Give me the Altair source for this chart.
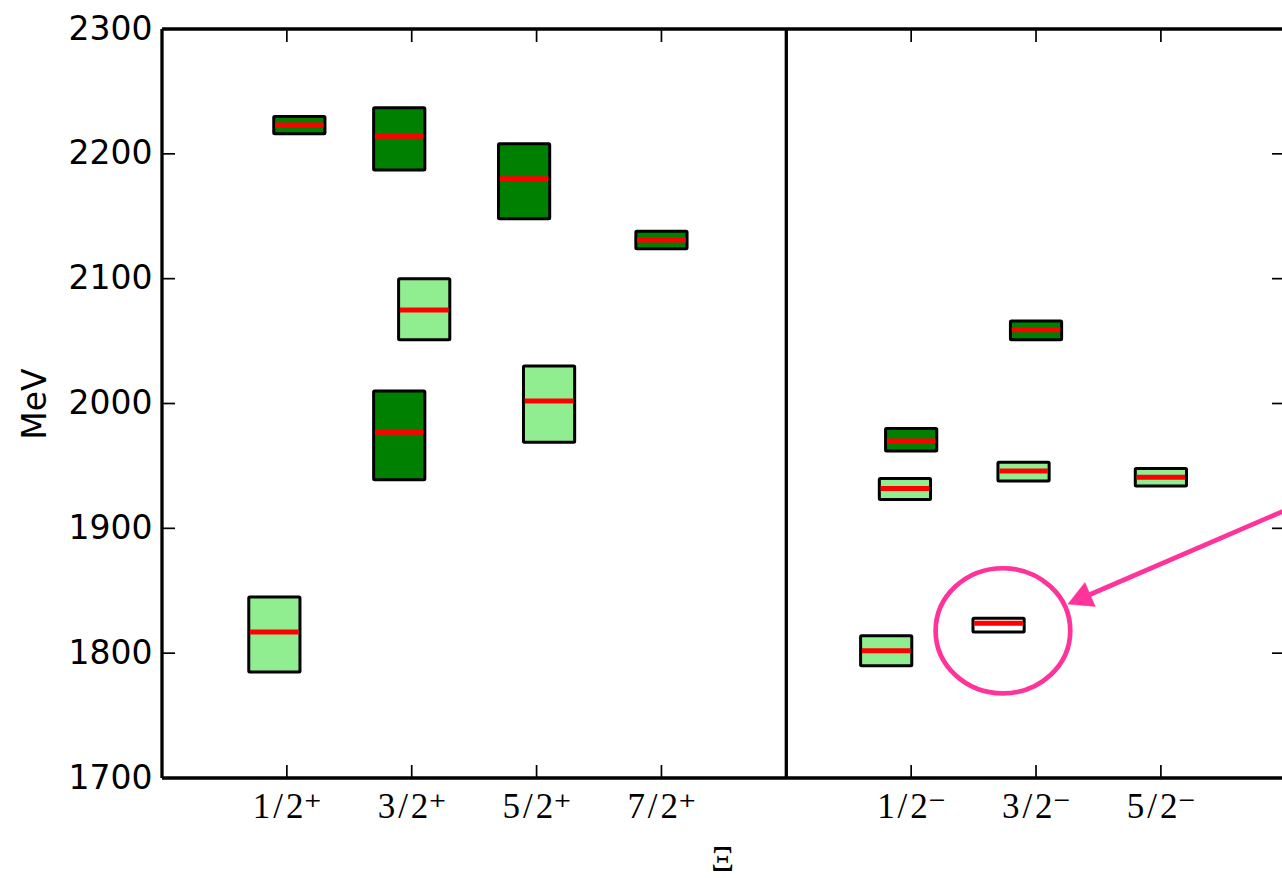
import altair as alt
import pandas as pd

# ---- data ----
box_x = [0.9, 1.1, 1.9, 2.1, 1.9, 2.9, 3.1, 4.0, 6.0, 5.95, 5.8, 7.0, 6.9, 6.7, 8.0]
box_lo = [1785, 2216, 2187, 2051, 1939, 2148, 1969, 2124, 1962, 1923, 1790, 2051, 1938, 1817, 1934]
box_hi = [1845, 2230, 2237, 2100, 2010, 2208, 2030, 2138, 1980, 1940, 1814, 2066, 1953, 1828, 1948]
box_mid = [1817, 2223, 2214, 2075, 1977, 2180, 2002, 2131, 1970, 1932, 1802, 2059, 1946, 1824, 1941]
box_kind = ["light", "dark", "dark", "light", "dark", "dark", "light", "dark",
            "dark", "light", "light", "dark", "light", "white", "light"]

xtick_vals = [1, 2, 3, 4, 6, 7, 8]
xtick_labels = ["1\u200a/\u200a2⁺", "3\u200a/\u200a2⁺", "5\u200a/\u200a2⁺", "7\u200a/\u200a2⁺",
                "1\u200a/\u200a2⁻", "3\u200a/\u200a2⁻", "5\u200a/\u200a2⁻"]
ytick_vals = [1700, 1800, 1900, 2000, 2100, 2200, 2300]
divider_x = [5]

# annotation (data coordinates)
circle_x = [6.735]
circle_y = [1817.9]
arrow_tail_x = [9.0]
arrow_tail_y = [1914.6]
arrow_base_x = [7.40]
arrow_base_y = [1845.6]
arrow_tip_x = [7.256]
arrow_tip_y = [1839.4]

W, H = 1120, 749
HALF = 0.205
TICK = 13

df = pd.DataFrame({"x": box_x, "lo": box_lo, "hi": box_hi, "mid": box_mid, "kind": box_kind})
xt = pd.DataFrame({"v": xtick_vals})
yt = pd.DataFrame({"v": ytick_vals})
one = pd.DataFrame({"a": [0]})
div = pd.DataFrame({"d": divider_x})
circ = pd.DataFrame({"x": circle_x, "y": circle_y})
arr = pd.DataFrame({"x": arrow_tail_x, "y": arrow_tail_y, "x2": arrow_base_x, "y2": arrow_base_y})
tip = pd.DataFrame({"x": arrow_tip_x, "y": arrow_tip_y})

xscale = alt.Scale(domain=[0, 8.97], nice=False, zero=False)
yscale = alt.Scale(domain=[1700, 2300], nice=False, zero=False)

label_expr = "".join(f"datum.value == {v} ? '{l}' : " for v, l in zip(xtick_vals, xtick_labels)) + "''"

xaxis = alt.Axis(values=xtick_vals, labelExpr=label_expr, title="Ξ", domain=False, ticks=False,
                 grid=False, labelFont="Liberation Serif, DejaVu Serif", labelFontSize=35,
                 labelColor="black", labelPadding=11, labelFlush=False, labelOverlap=False,
                 labelBound=False,
                 titleFont="Liberation Serif, DejaVu Serif", titleFontSize=36, titleFontWeight="normal",
                 titleColor="black", titlePadding=18)
yaxis = alt.Axis(values=ytick_vals, format="d", title="MeV", domain=False, ticks=False, grid=False,
                 labelFont="DejaVu Sans", labelFontSize=33, labelColor="black", labelPadding=10,
                 labelFlush=False, labelOverlap=False, labelBound=False,
                 titleFont="DejaVu Sans", titleFontSize=33, titleFontWeight="normal",
                 titleColor="black", titlePadding=16)


def X(field):
    return alt.X(field, scale=xscale, axis=xaxis)


def Y(field):
    return alt.Y(field, scale=yscale, axis=yaxis)


boxes = alt.Chart(df).transform_calculate(
    x0=f"datum.x - {HALF}", x1=f"datum.x + {HALF}"
).mark_rect(stroke="black", strokeWidth=3, cornerRadius=1).encode(
    x=X("x0:Q"),
    x2="x1:Q",
    y=Y("lo:Q"),
    y2="hi:Q",
    fill=alt.Fill("kind:N", scale=alt.Scale(domain=["dark", "light", "white"],
                                            range=["#008000", "#90EE90", "#FFFFFF"]), legend=None),
)

reds = alt.Chart(df).transform_calculate(
    x0=f"datum.x - {HALF - 0.01}", x1=f"datum.x + {HALF - 0.01}"
).mark_rule(color="#FF0000", strokeWidth=5, strokeCap="butt").encode(
    x=X("x0:Q"),
    x2="x1:Q",
    y=Y("mid:Q"),
)

spine_kw = dict(color="black", strokeWidth=3.3)
top_spine = alt.Chart(one).mark_rule(**spine_kw).encode(x=alt.value(0), x2=alt.value(W), y=alt.value(0))
bot_spine = alt.Chart(one).mark_rule(**spine_kw).encode(x=alt.value(0), x2=alt.value(W), y=alt.value(H))
left_spine = alt.Chart(one).mark_rule(**spine_kw).encode(x=alt.value(0), y=alt.value(0), y2=alt.value(H))

divider = alt.Chart(div).mark_rule(color="black", strokeWidth=3.3).encode(
    x=X("d:Q"), y=alt.value(0), y2=alt.value(H))

tick_kw = dict(color="black", strokeWidth=1.7)
top_ticks = alt.Chart(xt).mark_rule(**tick_kw).encode(
    x=X("v:Q"), y=alt.value(0), y2=alt.value(TICK))
bot_ticks = alt.Chart(xt).mark_rule(**tick_kw).encode(
    x=X("v:Q"), y=alt.value(H - TICK), y2=alt.value(H))
left_ticks = alt.Chart(yt).mark_rule(**tick_kw).encode(
    y=Y("v:Q"), x=alt.value(0), x2=alt.value(TICK))
right_ticks = alt.Chart(yt).mark_rule(**tick_kw).encode(
    y=Y("v:Q"), x=alt.value(W - 10), x2=alt.value(W))

PINK = "#FF3399"
circle = alt.Chart(circ).mark_point(
    shape="M-1,0A1,0.93 0 1,1 1,0A1,0.93 0 1,1 -1,0Z", size=18117, filled=False,
    stroke=PINK, strokeWidth=4.7, opacity=1
).encode(x=X("x:Q"), y=Y("y:Q"))

arrow_line = alt.Chart(arr).mark_rule(color=PINK, strokeWidth=4.7).encode(
    x=X("x:Q"), y=Y("y:Q"), x2="x2:Q", y2="y2:Q")

arrow_head = alt.Chart(tip).mark_point(
    shape="M0,0L-1,1.85L1,1.85Z", size=676, filled=True, fill=PINK, stroke=PINK,
    strokeWidth=0.5, angle=246.7, opacity=1
).encode(x=X("x:Q"), y=Y("y:Q"))

chart = alt.layer(
    boxes, reds, divider, top_spine, bot_spine, left_spine,
    top_ticks, bot_ticks, left_ticks, right_ticks,
    circle, arrow_line, arrow_head
).properties(
    width=W, height=H,
    padding={"left": 162, "top": 29, "right": 0, "bottom": 99},
    autosize=alt.AutoSizeParams(type="none"),
    background="white",
).configure_view(stroke=None)

chart.save("out.html", embed_options={"renderer": "svg", "actions": False})
